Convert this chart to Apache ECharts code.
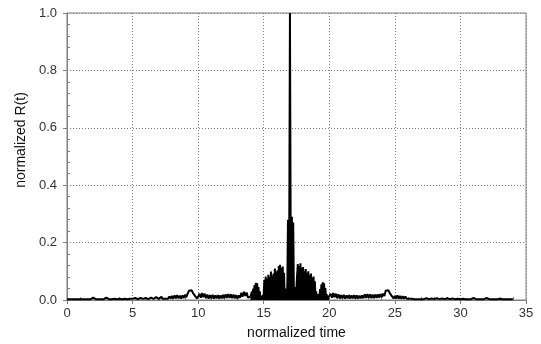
<!DOCTYPE html>
<html>
<head>
<meta charset="utf-8">
<script src="https://cdn.jsdelivr.net/npm/echarts@6/dist/echarts.min.js"></script>
<style>
html,body{margin:0;padding:0;background:#fff;}
#chart{width:541px;height:344px;}
</style>
</head>
<body>
<div id="chart"></div>
<script>
// Axis tick labels
var xTicks = [0, 5, 10, 15, 20, 25, 30, 35];
var yTicks = [0.0, 0.2, 0.4, 0.6, 0.8, 1.0];
var xName = 'normalized time';
var yName = 'normalized R(t)';

// [time, R] pairs, by region
var leftTail = [
[0,0.003],[0.2,0.003],[0.4,0.003],[0.6,0.003],[0.8,0.003],[1.0,0.003],[1.2,0.003],[1.4,0.003],[1.6,0.003],[1.8,0.003],
[2.0,0.008],[2.2,0.003],[2.4,0.003],[2.6,0.003],[2.8,0.003],[3.0,0.008],[3.2,0.003],[3.4,0.003],[3.6,0.004],[3.8,0.003],
[4.0,0.004],[4.2,0.003],[4.4,0.004],[4.6,0.003],[4.8,0.004],[5.0,0.004],[5.2,0.007],[5.4,0.003],[5.6,0.007],[5.8,0.004],
[6.0,0.007],[6.2,0.003],[6.4,0.008],[6.6,0.004],[6.8,0.010],[7.0,0.004]
];
var leftSide = [
[7.1,0.004],[7.2,0.011],[7.3,0.004],[7.4,0.010],[7.5,0.004],[7.6,0.009],[7.7,0.004],[7.8,0.012],[7.9,0.005],[8.0,0.014],
[8.1,0.005],[8.2,0.016],[8.3,0.006],[8.4,0.017],[8.5,0.006],[8.6,0.015],[8.7,0.005],[8.8,0.016],[8.9,0.007],[9.0,0.018],
[9.1,0.010],[9.2,0.022],[9.3,0.032],[9.4,0.026],[9.5,0.034],[9.6,0.025],[9.7,0.031],[9.8,0.012],[9.9,0.005],[10.0,0.012],
[10.1,0.022],[10.2,0.008],[10.3,0.024],[10.4,0.010],[10.5,0.022],[10.6,0.006],[10.7,0.019],[10.8,0.005],[10.9,0.017],[11.0,0.006],
[11.1,0.018],[11.2,0.005],[11.3,0.016],[11.4,0.006],[11.5,0.017],[11.6,0.005],[11.7,0.016],[11.8,0.006],[11.9,0.018],[12.0,0.006],
[12.1,0.020],[12.2,0.007],[12.3,0.021],[12.4,0.007],[12.5,0.020],[12.6,0.006],[12.7,0.019],[12.8,0.006],[12.9,0.017],[13.0,0.005],
[13.1,0.016],[13.2,0.008],[13.3,0.025],[13.4,0.012],[13.5,0.029],[13.6,0.014],[13.7,0.026],[13.8,0.008],[13.9,0.004],[14.0,0.012]
];
var centre = [
[14.0,0.012],
[14.05,0.010],[14.1,0.030],[14.15,0.010],[14.2,0.040],[14.25,0.015],[14.3,0.052],[14.35,0.020],[14.4,0.060],[14.45,0.025],[14.5,0.058],
[14.55,0.015],[14.6,0.045],[14.65,0.010],[14.7,0.030],[14.75,0.005],[14.8,0.015],[14.85,0.004],[14.9,0.010],[14.95,0.004],[15.0,0.020],
[15.05,0.070],[15.1,0.008],[15.15,0.082],[15.2,0.015],[15.25,0.075],[15.3,0.005],[15.35,0.088],[15.4,0.020],[15.45,0.080],[15.5,0.006],
[15.55,0.099],[15.6,0.020],[15.65,0.085],[15.7,0.008],[15.75,0.092],[15.8,0.015],[15.85,0.110],[15.9,0.025],[15.95,0.098],[16.0,0.006],
[16.05,0.104],[16.1,0.030],[16.15,0.118],[16.2,0.010],[16.25,0.123],[16.3,0.035],[16.35,0.112],[16.4,0.010],[16.45,0.117],[16.5,0.020],
[16.55,0.095],[16.6,0.004],[16.65,0.004],[16.7,0.040],[16.75,0.004],[16.8,0.050],
[16.85,0.280],[16.9,0.010],[16.95,0.290],[17.0,1.000],[17.05,0.300],[17.1,0.010],[17.15,0.290],[17.2,0.010],[17.25,0.270],[17.3,0.030],
[17.35,0.004],[17.4,0.045],[17.45,0.004],[17.5,0.004],
[17.55,0.090],[17.6,0.125],[17.65,0.030],[17.7,0.118],[17.75,0.010],[17.8,0.128],[17.85,0.025],[17.9,0.112],[17.95,0.006],[18.0,0.115],
[18.05,0.030],[18.1,0.100],[18.15,0.010],[18.2,0.108],[18.25,0.020],[18.3,0.095],[18.35,0.006],[18.4,0.100],[18.45,0.018],[18.5,0.086],
[18.55,0.008],[18.6,0.092],[18.65,0.020],[18.7,0.078],[18.75,0.006],[18.8,0.082],[18.85,0.012],[18.9,0.065],[18.95,0.005],[19.0,0.030],
[19.05,0.005],[19.1,0.008],[19.15,0.004],[19.2,0.020],[19.25,0.008],[19.3,0.038],[19.35,0.015],[19.4,0.055],[19.45,0.020],[19.5,0.062],
[19.55,0.025],[19.6,0.058],[19.65,0.012],[19.7,0.042],[19.75,0.008],[19.8,0.020],[19.85,0.004],[19.9,0.006],[19.95,0.004],[20.0,0.015]
];
var rightSide = [
[20.0,0.015],
[20.1,0.022],[20.2,0.008],[20.3,0.024],[20.4,0.010],[20.5,0.022],[20.6,0.006],[20.7,0.020],[20.8,0.005],[20.9,0.017],[21.0,0.006],
[21.1,0.018],[21.2,0.005],[21.3,0.016],[21.4,0.006],[21.5,0.017],[21.6,0.005],[21.7,0.016],[21.8,0.006],[21.9,0.017],[22.0,0.005],
[22.1,0.016],[22.2,0.005],[22.3,0.015],[22.4,0.006],[22.5,0.016],[22.6,0.006],[22.7,0.020],[22.8,0.007],[22.9,0.021],[23.0,0.007],
[23.1,0.020],[23.2,0.006],[23.3,0.019],[23.4,0.006],[23.5,0.019],[23.6,0.007],[23.7,0.020],[23.8,0.008],[23.9,0.021],[24.0,0.010],
[24.1,0.022],[24.2,0.014],[24.3,0.032],[24.4,0.026],[24.5,0.034],[24.6,0.025],[24.7,0.031],[24.8,0.012],[24.9,0.005],[25.0,0.014],
[25.1,0.005],[25.2,0.016],[25.3,0.005],[25.4,0.014],[25.5,0.004],[25.6,0.013],[25.7,0.004],[25.8,0.012],[25.9,0.004],[26.0,0.010],
[26.1,0.004],[26.2,0.009],[26.3,0.004],[26.4,0.008],[26.5,0.003],[26.6,0.007],[26.7,0.003],[26.8,0.009],[26.9,0.003],[27.0,0.006]
];
var rightTail = [
[27.2,0.003],[27.4,0.006],[27.6,0.003],[27.8,0.005],[28.0,0.003],[28.2,0.006],[28.4,0.003],[28.6,0.005],[28.8,0.003],[29.0,0.006],
[29.2,0.003],[29.4,0.005],[29.6,0.003],[29.8,0.004],[30.0,0.003],[30.2,0.004],[30.4,0.003],[30.6,0.003],[30.8,0.003],[31.0,0.007],
[31.2,0.003],[31.4,0.003],[31.6,0.003],[31.8,0.003],[32.0,0.007],[32.2,0.003],[32.4,0.003],[32.6,0.003],[32.8,0.003],[33.0,0.004],
[33.2,0.003],[33.4,0.003],[33.6,0.003],[33.8,0.003],[34.0,0.003]
];

var outerLeft = leftTail.concat(leftSide);
var outerRight = rightSide.concat(rightTail);

var axisGray = '#7f7f7f';
var labelStyle = {color: '#333', fontFamily: 'Liberation Sans', fontSize: 13};
var lineCommon = {type: 'line', xAxisIndex: 0, yAxisIndex: 0, showSymbol: false, symbol: 'none',
  sampling: null, smooth: false, z: 5, silent: true};

var chart = echarts.init(document.getElementById('chart'), null, {renderer: 'canvas'});
chart.setOption({
  animation: false,
  backgroundColor: '#fff',
  grid: {left: 67, right: 15, top: 13, bottom: 44, containLabel: false, outerBoundsMode: 'none',
         show: true, borderColor: axisGray, borderWidth: 1, backgroundColor: 'transparent'},
  xAxis: [{
    type: 'value', min: xTicks[0], max: xTicks[xTicks.length - 1], interval: xTicks[1] - xTicks[0],
    name: xName, nameLocation: 'middle', nameGap: 26,
    nameTextStyle: {color: '#111', fontFamily: 'Liberation Sans', fontSize: 14},
    axisLine: {show: true, lineStyle: {color: axisGray, width: 1}},
    axisTick: {show: true, length: 4, lineStyle: {color: axisGray}},
    minorTick: {show: false},
    axisLabel: Object.assign({margin: 7, formatter: function (v) { return String(v); }}, labelStyle),
    splitLine: {show: true, lineStyle: {color: axisGray, type: [1, 2], width: 1}}
  }, {
    type: 'value', min: xTicks[0], max: xTicks[xTicks.length - 1], interval: xTicks[1] - xTicks[0],
    position: 'bottom', offset: 0,
    axisLine: {show: false}, axisLabel: {show: false}, splitLine: {show: false},
    axisTick: {show: false, inside: true},
    minorTick: {show: true, splitNumber: 5, length: 3, lineStyle: {color: axisGray}}
  }],
  yAxis: [{
    type: 'value', min: yTicks[0], max: yTicks[yTicks.length - 1], interval: 0.2,
    axisLine: {show: true, lineStyle: {color: axisGray, width: 1}},
    axisTick: {show: true, length: 4, lineStyle: {color: axisGray}},
    minorTick: {show: false},
    axisLabel: Object.assign({margin: 10, formatter: function (v) { return v.toFixed(1); }}, labelStyle),
    splitLine: {show: true, lineStyle: {color: axisGray, type: [1, 2], width: 1}}
  }, {
    type: 'value', min: yTicks[0], max: yTicks[yTicks.length - 1], interval: 0.2,
    position: 'left', offset: 0,
    axisLine: {show: false}, axisLabel: {show: false}, splitLine: {show: false},
    axisTick: {show: false, inside: true},
    minorTick: {show: true, splitNumber: 5, length: 3, lineStyle: {color: axisGray}}
  }],
  graphic: [{
    type: 'text', x: 21, y: 140, rotation: Math.PI / 2,
    style: {text: yName, fill: '#111', font: '14px "Liberation Sans"', align: 'center', verticalAlign: 'middle'}
  }],
  series: [
    Object.assign({data: outerLeft, lineStyle: {color: '#000', width: 2, join: 'bevel'}}, lineCommon),
    Object.assign({data: centre, lineStyle: {color: '#000', width: 2, join: 'bevel'},
                   areaStyle: {color: '#000', opacity: 1, origin: 'start'}}, lineCommon),
    Object.assign({data: outerRight, lineStyle: {color: '#000', width: 2, join: 'bevel'}}, lineCommon)
  ]
});
</script>
</body>
</html>
